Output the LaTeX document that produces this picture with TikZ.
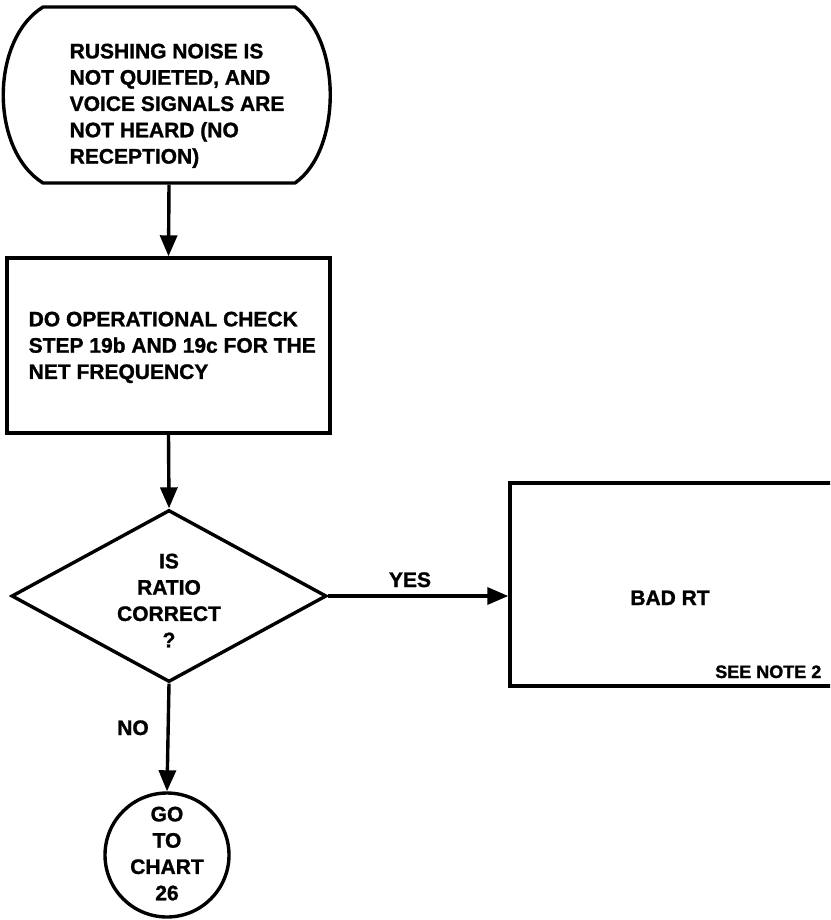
\documentclass[tikz,border=0pt]{standalone}
\usepackage{fontspec}
\setmainfont{Liberation Sans}[BoldFeatures={FakeBold=1.2}]
\usetikzlibrary{arrows.meta,shapes.geometric}
\begin{document}
\begin{tikzpicture}[x=1pt,y=-1pt,
  line width=3.4pt,
  txt/.style={font=\bfseries\fontsize{21}{26.3}\selectfont, inner sep=0pt},
  smalltxt/.style={font=\bfseries\fontsize{18}{22}\selectfont, inner sep=0pt},
  flow/.style={-{Triangle[length=21pt,width=17pt]}, line width=3.4pt},
  shapebox/.style={draw, rectangle, inner sep=0pt},
]
\useasboundingbox (0,0) rectangle (830,920);
\clip (0,0) rectangle (830,920);

% terminal shape
\draw[line join=round] (43,7) -- (295,7) .. controls (342,40) and (342,150) .. (295,183)
  -- (43,183) .. controls (-10,150) and (-10,40) .. (43,7) -- cycle;
\node[inner sep=0pt, minimum width=327pt, minimum height=176pt] (term) at (169,95) {};
\node[txt, anchor=north west, align=left] (termtext) at (68,42)
  {RUSHING NOISE IS\\NOT QUIETED, AND\\VOICE SIGNALS ARE\\NOT HEARD (NO\\RECEPTION)};

% operational check box
\node[shapebox, minimum width=323pt, minimum height=175pt] (check) at (168.5,345.5) {};
\node[txt, anchor=north west, align=left] (checktext) at (27,310)
  {DO OPERATIONAL CHECK\\STEP 19b AND 19c FOR THE\\NET FREQUENCY};

% decision diamond
\node[draw, diamond, inner sep=0pt, minimum width=315pt, minimum height=172pt] (dec) at (169,596) {};
\node[txt, anchor=north, align=center] (dectext) at (169,552)
  {IS\\RATIO\\CORRECT\\?};

% bad RT box
\node[shapebox, minimum width=335pt, minimum height=203pt] (bad) at (677.5,584.5) {};
\node[txt, anchor=base] (badtext) at (670,605) {BAD RT};
\node[smalltxt, anchor=base east] (note) at (823,678) {SEE NOTE 2};

% connector circle
\node[draw, circle, inner sep=0pt, minimum size=124pt] (goto) at (167,855) {};
\node[txt, anchor=north, align=center] (gototext) at (167,805)
  {GO\\TO\\CHART\\26};

% connectors
\draw[flow] (term.south) -- (check.north);
\draw[flow] (check.south) -- (dec.north);
\draw[flow] (dec.east) -- (dec.east -| bad.west);
\draw[flow] (dec.south) -- (goto.north);

% labels
\node[txt, anchor=base] (yes) at (410,587) {YES};
\node[txt, anchor=base] (no) at (133,735) {NO};
\end{tikzpicture}
\end{document}
